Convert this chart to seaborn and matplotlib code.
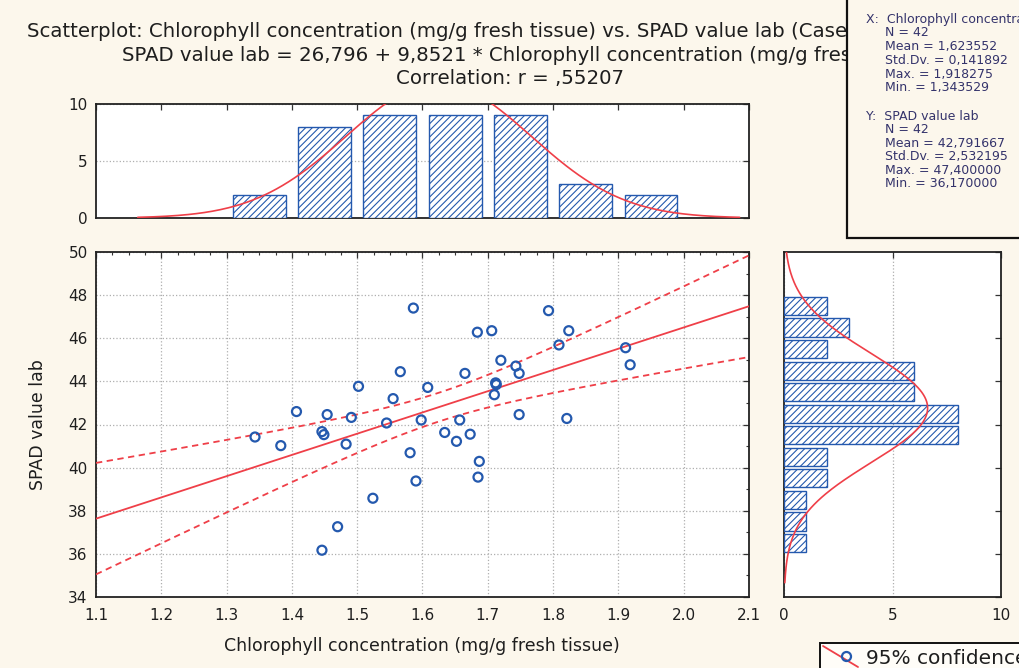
import numpy as np
import matplotlib
matplotlib.use("Agg")
import matplotlib.pyplot as plt
import seaborn as sns
from matplotlib.lines import Line2D
from matplotlib.patches import Rectangle
from matplotlib.ticker import MultipleLocator, FormatStrFormatter

# ---- data -------------------------------------------------------------
chlorophyll = [1.3435, 1.383, 1.407, 1.446, 1.449, 1.454, 1.483, 1.491, 1.502, 1.470,
               1.446, 1.524, 1.545, 1.555, 1.566, 1.586, 1.581, 1.590, 1.598, 1.608,
               1.634, 1.652, 1.657, 1.673, 1.665, 1.684, 1.706, 1.687, 1.685, 1.720,
               1.743, 1.748, 1.712, 1.713, 1.710, 1.748, 1.793, 1.824, 1.809, 1.821,
               1.911, 1.918]
spad = [41.42, 41.02, 42.60, 41.67, 41.53, 42.46, 41.09, 42.33, 43.77, 37.26,
        36.17, 38.58, 42.07, 43.20, 44.45, 47.40, 40.69, 39.38, 42.21, 43.72,
        41.63, 41.22, 42.21, 41.55, 44.37, 46.28, 46.35, 40.29, 39.56, 44.98,
        44.71, 44.37, 43.93, 43.85, 43.38, 42.46, 47.28, 46.35, 45.69, 42.28,
        45.56, 44.77]

intercept = 26.796
slope = 9.8521
t_crit = 2.021  # two-sided 95 %, 40 d.f.

x_bin_edges = [1.3, 1.4, 1.5, 1.6, 1.7, 1.8, 1.9, 2.0]
y_bin_edges = [36, 37, 38, 39, 40, 41, 42, 43, 44, 45, 46, 47, 48]

title_lines = [
    "Scatterplot: Chlorophyll concentration (mg/g fresh tissue) vs. SPAD value lab (Casewise MD deletion)",
    "SPAD value lab = 26,796 + 9,8521 * Chlorophyll concentration (mg/g fresh tissue)",
    "Correlation: r = ,55207",
]
x_stats = ["X:  Chlorophyll concentration (mg/g fresh tissue)", "N = 42", "Mean = 1,623552",
           "Std.Dv. = 0,141892", "Max. = 1,918275", "Min. = 1,343529"]
y_stats = ["Y:  SPAD value lab", "N = 42", "Mean = 42,791667",
           "Std.Dv. = 2,532195", "Max. = 47,400000", "Min. = 36,170000"]

# ---- style ------------------------------------------------------------
sns.set_theme(style="white")
plt.rcParams["font.family"] = ["DejaVu Sans"]
plt.rcParams["hatch.linewidth"] = 0.8

BG = "#FCF7EC"
BLUE = "#2459AE"
RED = "#EF3F48"
INK = "#1E1E1E"
STAT_INK = "#34336B"
plt.rcParams["hatch.color"] = BLUE

W, H = 1019, 668
fig = plt.figure(figsize=(W / 100, H / 100), dpi=100, facecolor=BG)


def fx(px):
    return px / W


def fy(py):
    return 1 - py / H


ax_main = fig.add_axes([fx(96), fy(597), (749 - 96) / W, (597 - 252) / H])
ax_top = fig.add_axes([fx(96), fy(218), (749 - 96) / W, (218 - 104) / H])
ax_side = fig.add_axes([fx(784), fy(597), (1001 - 784) / W, (597 - 252) / H])

for ax in (ax_main, ax_top, ax_side):
    ax.set_facecolor("white")
    for sp in ax.spines.values():
        sp.set_color("#222222")
        sp.set_linewidth(1.3)
    ax.tick_params(direction="in", top=True, right=True, length=4, width=0.9,
                   color="#333333", labelsize=11, labelcolor=INK)
    ax.tick_params(which="minor", direction="in", top=True, right=True,
                   length=2.5, width=0.8, color="#333333")

x = np.array(chlorophyll)
y = np.array(spad)
n = len(x)

# ---- scatter, fit line, confidence band -------------------------------
sns.scatterplot(x=x, y=y, ax=ax_main, marker="o", s=42, facecolor="none",
                edgecolor=BLUE, linewidth=1.6, zorder=4)
ax_main.collections[-1].set_facecolor("none")

xx = np.linspace(1.1, 2.1, 300)
fit = intercept + slope * xx
xbar = x.mean()
sxx = ((x - xbar) ** 2).sum()
s_res = np.sqrt(((y - (intercept + slope * x)) ** 2).sum() / (n - 2))
half = t_crit * s_res * np.sqrt(1 / n + (xx - xbar) ** 2 / sxx)
ax_main.plot(xx, fit, color=RED, lw=1.3, zorder=3)
ax_main.plot(xx, fit + half, color=RED, lw=1.3, ls=(0, (3.5, 2.5)), zorder=3)
ax_main.plot(xx, fit - half, color=RED, lw=1.3, ls=(0, (3.5, 2.5)), zorder=3)

ax_main.set_xlim(1.1, 2.1)
ax_main.set_ylim(34, 50)
ax_main.xaxis.set_major_locator(MultipleLocator(0.1))
ax_main.xaxis.set_minor_locator(MultipleLocator(0.025))
ax_main.yaxis.set_major_locator(MultipleLocator(2))
ax_main.yaxis.set_minor_locator(MultipleLocator(1))
ax_main.xaxis.set_major_formatter(FormatStrFormatter("%.1f"))
ax_main.grid(True, which="major", color="#AFAFAF", ls=":", lw=0.9)
ax_main.set_axisbelow(True)
ax_main.tick_params(axis="x", pad=8)
ax_main.tick_params(axis="y", pad=6)
ax_main.set_xlabel("")
ax_main.set_ylabel("")

# ---- top histogram ----------------------------------------------------
sns.histplot(x=x, bins=x_bin_edges, ax=ax_top, shrink=0.81, color="white",
             edgecolor=BLUE, linewidth=1.0, hatch="/////", alpha=1, zorder=3)
sx = x.std(ddof=1)
gx = np.linspace(xbar - 3.25 * sx, xbar + 3.25 * sx, 300)
ax_top.plot(gx, n * 0.1 * np.exp(-0.5 * ((gx - xbar) / sx) ** 2) / (sx * np.sqrt(2 * np.pi)),
            color=RED, lw=1.2, zorder=4)
ax_top.set_xlim(1.1, 2.1)
ax_top.set_ylim(0, 10)
ax_top.xaxis.set_major_locator(MultipleLocator(0.1))
ax_top.yaxis.set_major_locator(MultipleLocator(5))
ax_top.tick_params(axis="x", labelbottom=False)
ax_top.tick_params(axis="y", pad=6)
ax_top.yaxis.grid(True, color="#AFAFAF", ls=":", lw=0.9)
ax_top.set_axisbelow(True)
ax_top.set_xlabel("")
ax_top.set_ylabel("")

# ---- side histogram ---------------------------------------------------
sns.histplot(y=y, bins=y_bin_edges, ax=ax_side, shrink=0.84, color="white",
             edgecolor=BLUE, linewidth=1.0, hatch="/////", alpha=1, zorder=3)
ybar = y.mean()
sy = y.std(ddof=1)
gy = np.linspace(ybar - 3.2 * sy, ybar + 3.2 * sy, 300)
ax_side.plot(n * 1.0 * np.exp(-0.5 * ((gy - ybar) / sy) ** 2) / (sy * np.sqrt(2 * np.pi)), gy,
             color=RED, lw=1.2, zorder=4)
ax_side.set_xlim(0, 10)
ax_side.set_ylim(34, 50)
ax_side.xaxis.set_major_locator(MultipleLocator(5))
ax_side.yaxis.set_major_locator(MultipleLocator(2))
ax_side.tick_params(axis="y", labelleft=False)
ax_side.tick_params(axis="x", pad=8)
ax_side.xaxis.grid(True, color="#AFAFAF", ls=":", lw=0.9)
ax_side.set_axisbelow(True)
ax_side.set_xlabel("")
ax_side.set_ylabel("")

# ---- axis titles ------------------------------------------------------
fig.text(fx(422), fy(646), "Chlorophyll concentration (mg/g fresh tissue)",
         ha="center", va="center", fontsize=12.5, color=INK)
fig.text(fx(38), fy(425), "SPAD value lab", rotation=90,
         ha="center", va="center", fontsize=12.5, color=INK)

# ---- heading ----------------------------------------------------------
for (xpos, ybase), line in zip([(27, 37), (122, 61), (396, 84)], title_lines):
    fig.text(fx(xpos), fy(ybase), line, ha="left", va="baseline",
             fontsize=14.2, color=INK, zorder=2)

# ---- descriptive statistics box ----------------------------------------
fig.add_artist(Rectangle((fx(847), fy(238)), 0.5, 0.8, transform=fig.transFigure,
                         facecolor=BG, edgecolor="#111111", lw=1.6, zorder=10))
for i, line in enumerate(x_stats):
    xpos = 866 if i == 0 else 885
    fig.text(fx(xpos), fy(19 + 13.8 * i), line, ha="left", va="center",
             fontsize=9.0, color=STAT_INK, zorder=11)
for i, line in enumerate(y_stats):
    xpos = 866 if i == 0 else 885
    fig.text(fx(xpos), fy(116 + 13.6 * i), line, ha="left", va="center",
             fontsize=9.0, color=STAT_INK, zorder=11)

# ---- legend -------------------------------------------------------------
fig.add_artist(Rectangle((fx(820), fy(700)), 0.5, (700 - 643) / H, transform=fig.transFigure,
                         facecolor="#FFFDF8", edgecolor="#111111", lw=1.4, zorder=10))
fig.add_artist(Line2D([fx(823), fx(858)], [fy(646), fy(667)], transform=fig.transFigure,
                      color=RED, lw=1.3, zorder=11))
fig.add_artist(Line2D([fx(846)], [fy(656)], transform=fig.transFigure, marker="o",
                      markersize=6.5, markerfacecolor="none", markeredgecolor=BLUE,
                      markeredgewidth=1.6, zorder=12))
fig.text(fx(866), fy(664), "95% confidence", ha="left", va="baseline",
         fontsize=14.5, color=INK, zorder=12)

fig.savefig("out.png", dpi=100, facecolor=BG)
